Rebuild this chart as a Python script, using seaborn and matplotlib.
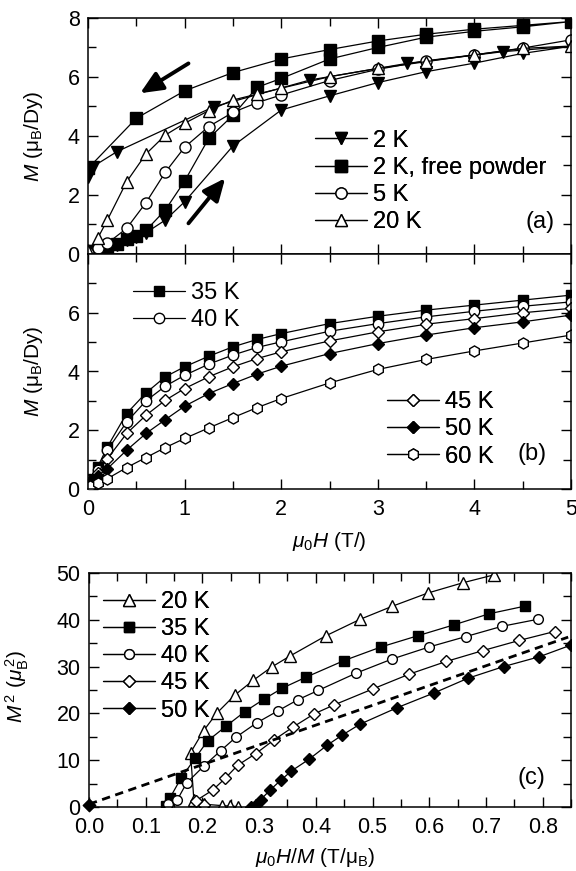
import matplotlib
matplotlib.use("Agg")
import matplotlib.pyplot as plt
import seaborn as sns
from matplotlib.lines import Line2D
from matplotlib.ticker import MultipleLocator, FixedLocator, FormatStrFormatter

# ---------------- data: panel (a) M(H), mu_B/Dy ----------------
H_2K_up = [0.0, 0.05, 0.1, 0.15, 0.2, 0.3, 0.4, 0.5, 0.6, 0.8, 1.0, 1.5, 2.0, 2.5, 3.0, 3.5, 4.0, 4.5, 5.0]
M_2K_up = [0.05, 0.1, 0.15, 0.2, 0.25, 0.31, 0.47, 0.58, 0.72, 1.15, 1.77, 3.66, 4.88, 5.36, 5.81, 6.18, 6.47, 6.80, 7.04]
H_2K_dn = [4.3, 3.3, 2.3, 1.3, 0.3, 0.05, 0.0]
M_2K_dn = [6.86, 6.46, 5.90, 4.99, 3.47, 2.96, 2.6]

H_fp_up = [0.0, 0.05, 0.1, 0.2, 0.3, 0.4, 0.5, 0.6, 0.8, 1.0, 1.25, 1.5, 1.75, 2.0, 2.5, 3.0, 3.5, 4.0, 4.5, 5.0]
M_fp_up = [0.05, 0.1, 0.15, 0.25, 0.35, 0.5, 0.62, 0.8, 1.49, 2.47, 3.92, 4.70, 5.65, 5.95, 6.61, 7.0, 7.35, 7.55, 7.7, 7.88]
H_fp_dn = [4.5, 4.0, 3.5, 3.0, 2.5, 2.0, 1.5, 1.0, 0.5, 0.0]
M_fp_dn = [7.75, 7.62, 7.45, 7.22, 6.93, 6.61, 6.15, 5.53, 4.6, 2.9]

H_5K = [0.0, 0.1, 0.2, 0.4, 0.6, 0.8, 1.0, 1.25, 1.5, 1.75, 2.0, 2.5, 3.0, 3.5, 4.0, 4.5, 5.0]
M_5K = [0.05, 0.2, 0.36, 0.87, 1.74, 2.77, 3.62, 4.32, 4.8, 5.13, 5.39, 5.88, 6.26, 6.55, 6.75, 6.98, 7.26]

H_20K = [0.0, 0.1, 0.2, 0.4, 0.6, 0.8, 1.0, 1.25, 1.5, 1.75, 2.0, 2.5, 3.0, 3.5, 4.0, 4.5, 5.0]
M_20K = [0.1, 0.53, 1.15, 2.45, 3.39, 4.03, 4.43, 4.86, 5.22, 5.42, 5.62, 6.01, 6.29, 6.52, 6.75, 6.97, 7.05]

# ---------------- data: panel (b) ----------------
H_b = [0.02, 0.1, 0.2, 0.4, 0.6, 0.8, 1.0, 1.25, 1.5, 1.75, 2.0, 2.5, 3.0, 3.5, 4.0, 4.5, 5.0]
M_35K = [0.35, 0.75, 1.43, 2.57, 3.27, 3.82, 4.16, 4.52, 4.84, 5.09, 5.29, 5.63, 5.88, 6.09, 6.26, 6.43, 6.6]
M_40K = [0.3, 0.64, 1.32, 2.28, 3.0, 3.5, 3.87, 4.25, 4.56, 4.82, 5.01, 5.37, 5.63, 5.86, 6.05, 6.22, 6.37]
M_45K = [0.28, 0.55, 1.03, 1.89, 2.51, 3.02, 3.42, 3.82, 4.16, 4.44, 4.67, 5.04, 5.35, 5.61, 5.8, 6.0, 6.15]
M_50K = [0.25, 0.45, 0.69, 1.32, 1.89, 2.36, 2.82, 3.25, 3.59, 3.91, 4.18, 4.61, 4.95, 5.24, 5.49, 5.69, 5.92]
M_60K = [0.1, 0.2, 0.35, 0.73, 1.07, 1.41, 1.72, 2.08, 2.43, 2.77, 3.08, 3.61, 4.07, 4.41, 4.70, 4.97, 5.24]

# ---------------- data: panel (c) Arrott plot ----------------
x_20K_c = [0.262, 0.248, 0.234, 0.203, 0.185, 0.179, 0.202, 0.225, 0.257, 0.29, 0.322, 0.355, 0.418, 0.478, 0.535, 0.597, 0.659, 0.714]
y_20K_c = [0.1, 0.2, 0.3, 0.6, 1.4, 11.6, 16.3, 20.0, 23.9, 27.1, 29.9, 32.3, 36.6, 40.1, 42.9, 45.7, 47.9, 49.6]
x_35K_c = [0.135, 0.143, 0.162, 0.187, 0.209, 0.242, 0.275, 0.308, 0.341, 0.382, 0.45, 0.515, 0.58, 0.643, 0.706, 0.768]
y_35K_c = [0.3, 2.0, 6.1, 10.4, 14.1, 17.3, 20.4, 23.0, 25.4, 27.7, 31.3, 34.2, 36.6, 38.9, 41.3, 42.9]
x_40K_c = [0.14, 0.156, 0.172, 0.202, 0.232, 0.259, 0.296, 0.334, 0.368, 0.404, 0.471, 0.534, 0.6, 0.664, 0.728, 0.791]
y_40K_c = [0.7, 1.6, 5.1, 8.7, 12.0, 14.9, 18.0, 20.6, 22.9, 24.9, 28.6, 31.6, 34.2, 36.4, 38.6, 40.1]
x_45K_c = [0.203, 0.188, 0.218, 0.24, 0.262, 0.294, 0.327, 0.36, 0.397, 0.432, 0.5, 0.565, 0.63, 0.694, 0.759, 0.821]
y_45K_c = [0.4, 1.3, 3.6, 6.1, 8.9, 11.4, 14.4, 17.1, 19.9, 21.8, 25.2, 28.4, 31.1, 33.4, 35.6, 37.5]
x_50K_c = [0.285, 0.295, 0.303, 0.32, 0.338, 0.357, 0.388, 0.42, 0.447, 0.478, 0.543, 0.609, 0.668, 0.731, 0.794, 0.85]
y_50K_c = [0.05, 0.5, 1.6, 3.7, 5.7, 7.7, 10.2, 13.2, 15.4, 17.7, 21.2, 24.4, 27.5, 30.0, 32.1, 34.6]
x_origin_c = [0.0]
y_origin_c = [0.4]
x_dash = [0.0, 0.845]
y_dash = [0.6, 36.3]

labels_a = ["2 K", "2 K, free powder", "5 K", "20 K"]
labels_b1 = ["35 K", "40 K"]
labels_b2 = ["45 K", "50 K", "60 K"]
labels_c = ["20 K", "35 K", "40 K", "45 K", "50 K"]

# ---------------- style ----------------
sns.set_style("ticks")
FS = 15          # axis labels
FS_TICK = 15.5   # tick labels
FS_LEG = 17      # legend entries and panel tags
plt.rcParams.update({
    "font.family": ["Liberation Sans", "DejaVu Sans"],
    "font.size": FS,
    "mathtext.fontset": "custom",
    "mathtext.rm": "Liberation Sans",
    "mathtext.it": "Liberation Sans:italic",
    "mathtext.bf": "Liberation Sans:bold",
    "axes.linewidth": 1.1,
    "axes.edgecolor": "black",
    "text.color": "black",
    "axes.labelcolor": "black",
    "xtick.color": "black",
    "ytick.color": "black",
})

fig = plt.figure(figsize=(5.76, 8.71), dpi=100)
W, HH = 576.0, 871.0


def axes_px(l, t, r, b):
    return fig.add_axes([l / W, 1 - b / HH, (r - l) / W, (b - t) / HH])


axa = axes_px(88, 18, 571, 254)
axb = axes_px(88, 254, 571, 489)
axc = axes_px(89, 573, 571, 807)


def draw(ax, x, y, marker, fill, ms, lw=0.9):
    sns.lineplot(x=x, y=y, sort=False, estimator=None, ax=ax, color="black",
                 lw=lw, marker=marker, markersize=ms, markerfacecolor=fill,
                 markeredgecolor="black", markeredgewidth=1.0, legend=False)


def handle(marker, fill, ms):
    return Line2D([], [], color="black", lw=0.9, marker=marker, markersize=ms,
                  markerfacecolor=fill, markeredgecolor="black", markeredgewidth=1.0)


def legend(ax, handles, labels, x, y):
    lg = ax.legend(handles, labels, loc="upper left", bbox_to_anchor=(x, y),
                   frameon=False, borderpad=0, borderaxespad=0, handlelength=2.2,
                   handletextpad=0.26, labelspacing=0.22, numpoints=1, fontsize=FS_LEG)
    ax.add_artist(lg)
    return lg


def style_ticks(ax):
    ax.tick_params(which="both", direction="in", top=True, right=True,
                   width=1.0, labelsize=FS_TICK, colors="black")
    ax.tick_params(which="major", length=7)
    ax.tick_params(which="minor", length=6)
    ax.tick_params(axis="x", pad=7)
    ax.tick_params(axis="y", pad=6)


# ---------------- panel (a) ----------------
styles_a = [("v", "black", 9), ("s", "black", 8), ("o", "white", 8), ("^", "white", 9)]
draw(axa, H_2K_up + H_2K_dn, M_2K_up + M_2K_dn, *styles_a[0])
draw(axa, H_fp_up + H_fp_dn, M_fp_up + M_fp_dn, *styles_a[1])
draw(axa, H_5K, M_5K, *styles_a[2])
draw(axa, H_20K, M_20K, *styles_a[3])
axa.set_xlim(0, 5)
axa.set_ylim(0, 8)
axa.xaxis.set_major_locator(MultipleLocator(1))
axa.xaxis.set_minor_locator(MultipleLocator(0.5))
axa.yaxis.set_major_locator(MultipleLocator(2))
axa.yaxis.set_minor_locator(MultipleLocator(1))
style_ticks(axa)
axa.tick_params(axis="x", labelbottom=False)
axa.set_xlabel("")
axa.set_ylabel(r"$M$ ($\mathrm{\mu_B}$/Dy)", fontsize=FS)
axa.yaxis.set_label_coords(-0.09, 0.5)
legend(axa, [handle(*s) for s in styles_a], labels_a, 0.47, 0.527)
axa.text(0.936, 0.136, "(a)", transform=axa.transAxes, ha="center", va="center", fontsize=FS_LEG)
arrow = dict(arrowstyle="-|>,head_length=0.9,head_width=0.4", lw=2.8, color="black",
             shrinkA=0, shrinkB=0)
axa.annotate("", xy=(0.54, 5.45), xytext=(1.04, 6.46), arrowprops=arrow)
axa.annotate("", xy=(1.42, 2.57), xytext=(1.04, 1.04), arrowprops=arrow)

# ---------------- panel (b) ----------------
styles_b = [("s", "black", 7.5), ("o", "white", 7.5), ("D", "white", 6.5),
            ("D", "black", 6.5), ("h", "white", 8)]
for M, st in zip([M_35K, M_40K, M_45K, M_50K, M_60K], styles_b):
    draw(axb, H_b, M, *st)
axb.set_xlim(0, 5)
axb.set_ylim(0, 8)
axb.xaxis.set_major_locator(MultipleLocator(1))
axb.xaxis.set_minor_locator(MultipleLocator(0.5))
axb.yaxis.set_major_locator(FixedLocator([0, 2, 4, 6]))
axb.yaxis.set_minor_locator(FixedLocator([1, 3, 5, 7]))
style_ticks(axb)
axb.set_ylabel(r"$M$ ($\mathrm{\mu_B}$/Dy)", fontsize=FS)
axb.yaxis.set_label_coords(-0.09, 0.5)
axb.set_xlabel(r"$\mu_0H$ (T/)", fontsize=FS)
axb.xaxis.set_label_coords(0.5, -0.175)
legend(axb, [handle(*s) for s in styles_b[:2]], labels_b1, 0.093, 0.88)
legend(axb, [handle(*s) for s in styles_b[2:]], labels_b2, 0.619, 0.416)
axb.text(0.92, 0.149, "(b)", transform=axb.transAxes, ha="center", va="center", fontsize=FS_LEG)

# ---------------- panel (c) ----------------
styles_c = [("^", "white", 8.5), ("s", "black", 6.5), ("o", "white", 7),
            ("D", "white", 6.5), ("D", "black", 6.5)]
for x, y, st in zip([x_20K_c, x_35K_c, x_40K_c, x_45K_c, x_50K_c],
                    [y_20K_c, y_35K_c, y_40K_c, y_45K_c, y_50K_c], styles_c):
    draw(axc, x, y, *st)
sns.lineplot(x=x_dash, y=y_dash, ax=axc, color="black", lw=2.0, linestyle=(0, (3, 2)),
             sort=False, estimator=None, legend=False)
sns.scatterplot(x=x_origin_c, y=y_origin_c, ax=axc, marker="D", s=40, color="black",
                edgecolor="black", linewidth=1.0, legend=False, clip_on=False, zorder=5)
axc.set_xlim(0, 0.85)
axc.set_ylim(0, 50)
axc.xaxis.set_major_locator(MultipleLocator(0.1))
axc.xaxis.set_minor_locator(MultipleLocator(0.05))
axc.yaxis.set_major_locator(MultipleLocator(10))
axc.yaxis.set_minor_locator(MultipleLocator(5))
axc.xaxis.set_major_formatter(FormatStrFormatter("%.1f"))
style_ticks(axc)
axc.set_ylabel(r"$M^{\,2}$ ($\mu_\mathrm{B}^{\,2}$)", fontsize=FS)
axc.yaxis.set_label_coords(-0.12, 0.513)
axc.set_xlabel(r"$\mu_0H/M$ (T/$\mathrm{\mu_B}$)", fontsize=FS)
axc.xaxis.set_label_coords(0.47, -0.165)
legend(axc, [handle(*s) for s in styles_c], labels_c, 0.029, 0.924)
axc.text(0.917, 0.123, "(c)", transform=axc.transAxes, ha="center", va="center", fontsize=FS_LEG)

fig.savefig("out.png", dpi=100)
